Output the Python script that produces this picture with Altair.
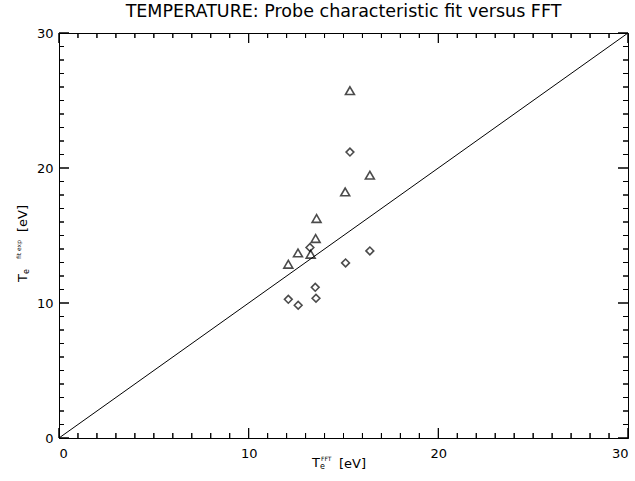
import altair as alt
import pandas as pd

# ---- data ----
fft_tri = [15.34, 16.39, 15.09, 13.58, 13.53, 12.60, 13.27, 12.09]
fit_tri = [25.73, 19.47, 18.23, 16.26, 14.78, 13.71, 13.61, 12.87]
fft_dia = [15.34, 16.39, 15.11, 13.51, 13.55, 12.61, 13.23, 12.09]
fit_dia = [21.18, 13.86, 12.97, 11.16, 10.35, 9.83, 14.11, 10.27]
diag = [0, 30]
major_ticks = [0, 10, 20, 30]
minor_ticks = [v for v in range(0, 31) if v % 10 != 0]
title_text = "TEMPERATURE: Probe characteristic fit versus FFT"

W, H = 569, 405
FONT = "DejaVu Sans"
MAJ, MIN = 10, 5

xs = alt.Scale(domain=[0, 30], nice=False, zero=False)
ys = alt.Scale(domain=[0, 30], nice=False, zero=False)

tri_df = pd.DataFrame({"x": fft_tri, "y": fit_tri})
dia_df = pd.DataFrame({"x": fft_dia, "y": fit_dia})
diag_df = pd.DataFrame({"x": diag, "y": diag})
maj_x = pd.DataFrame({"x": major_ticks})
min_x = pd.DataFrame({"x": minor_ticks})
maj_y = pd.DataFrame({"y": major_ticks})
min_y = pd.DataFrame({"y": minor_ticks})

x_axis = alt.Axis(values=major_ticks, tickSize=0, domainColor="black", grid=False,
                  labelFont=FONT, labelFontSize=13, labelColor="black",
                  labelPadding=9, title=None)
y_axis = alt.Axis(values=major_ticks, tickSize=0, domainColor="black", grid=False,
                  labelFont=FONT, labelFontSize=13, labelColor="black",
                  labelPadding=6, title=None)

line = alt.Chart(diag_df).mark_line(color="black", strokeWidth=1).encode(
    x=alt.X("x:Q", scale=xs, axis=x_axis),
    y=alt.Y("y:Q", scale=ys, axis=y_axis),
)
tri = alt.Chart(tri_df).mark_point(shape="triangle-up", size=80, filled=False,
                                   color="black", strokeWidth=1.6).encode(
    x=alt.X("x:Q", scale=xs), y=alt.Y("y:Q", scale=ys))
dia = alt.Chart(dia_df).mark_point(shape="diamond", size=60, filled=False,
                                   color="black", strokeWidth=1.6).encode(
    x=alt.X("x:Q", scale=xs), y=alt.Y("y:Q", scale=ys))


# --- inward box ticks, drawn two equivalent ways (identical geometry) ---
def xticks(df, length):
    out = []
    out.append(alt.Chart(df).mark_rule(color="black", strokeWidth=1).encode(
        x=alt.X("x:Q", scale=xs), y=alt.value(H), y2=alt.value(H - length)))
    out.append(alt.Chart(df).mark_rule(color="black", strokeWidth=1).encode(
        x=alt.X("x:Q", scale=xs), y=alt.value(0), y2=alt.value(length)))
    for edge, path in (("0", "M0,0L0,-2"), ("30", "M0,0L0,2")):
        out.append(alt.Chart(df).transform_calculate(edge=edge).mark_point(
            shape=path, size=length * length, filled=False, color="black",
            strokeWidth=1, opacity=1).encode(
            x=alt.X("x:Q", scale=xs), y=alt.Y("edge:Q", scale=ys)))
    return out


def yticks(df, length):
    out = []
    out.append(alt.Chart(df).mark_rule(color="black", strokeWidth=1).encode(
        y=alt.Y("y:Q", scale=ys), x=alt.value(0), x2=alt.value(length)))
    out.append(alt.Chart(df).mark_rule(color="black", strokeWidth=1).encode(
        y=alt.Y("y:Q", scale=ys), x=alt.value(W), x2=alt.value(W - length)))
    for edge, path in (("0", "M0,0L2,0"), ("30", "M0,0L-2,0")):
        out.append(alt.Chart(df).transform_calculate(edge=edge).mark_point(
            shape=path, size=length * length, filled=False, color="black",
            strokeWidth=1, opacity=1).encode(
            y=alt.Y("y:Q", scale=ys), x=alt.X("edge:Q", scale=xs)))
    return out


def txt(s, x, y, size, angle=0):
    kw = dict(text=s, font=FONT, fontSize=size, color="black", align="left",
              baseline="alphabetic")
    if angle:
        kw["angle"] = angle
    return alt.Chart(pd.DataFrame({"a": [0]})).mark_text(**kw).encode(
        x=alt.value(x), y=alt.value(y))


labels = [
    # x-axis title: T_e^FFT  [eV]
    txt("T", 253, 434, 13),
    txt("e", 261, 436, 8),
    txt("FFT", 262, 428, 6),
    txt("[eV]", 280, 435, 13),
    # y-axis title (rotated)
    txt("T", -32, 249, 13, 270),
    txt("e", -30, 241, 8, 270),
    txt("fit exp", -38, 226, 6, 270),
    txt("[eV]", -32, 199, 13, 270),
]

layers = [line, tri, dia] + xticks(maj_x, MAJ) + xticks(min_x, MIN) \
    + yticks(maj_y, MAJ) + yticks(min_y, MIN) + labels

chart = alt.layer(*layers).properties(
    width=W, height=H,
    title=alt.TitleParams(title_text, font=FONT, fontSize=17.5, fontWeight="normal",
                          color="black", anchor="middle", offset=7),
    autosize=alt.AutoSizeParams(type="none"),
    padding={"left": 59, "top": 33, "right": 7, "bottom": 43},
    background="white",
).configure_view(stroke="black", strokeWidth=1)

chart.save("out.html", embed_options={"renderer": "svg", "actions": False})
